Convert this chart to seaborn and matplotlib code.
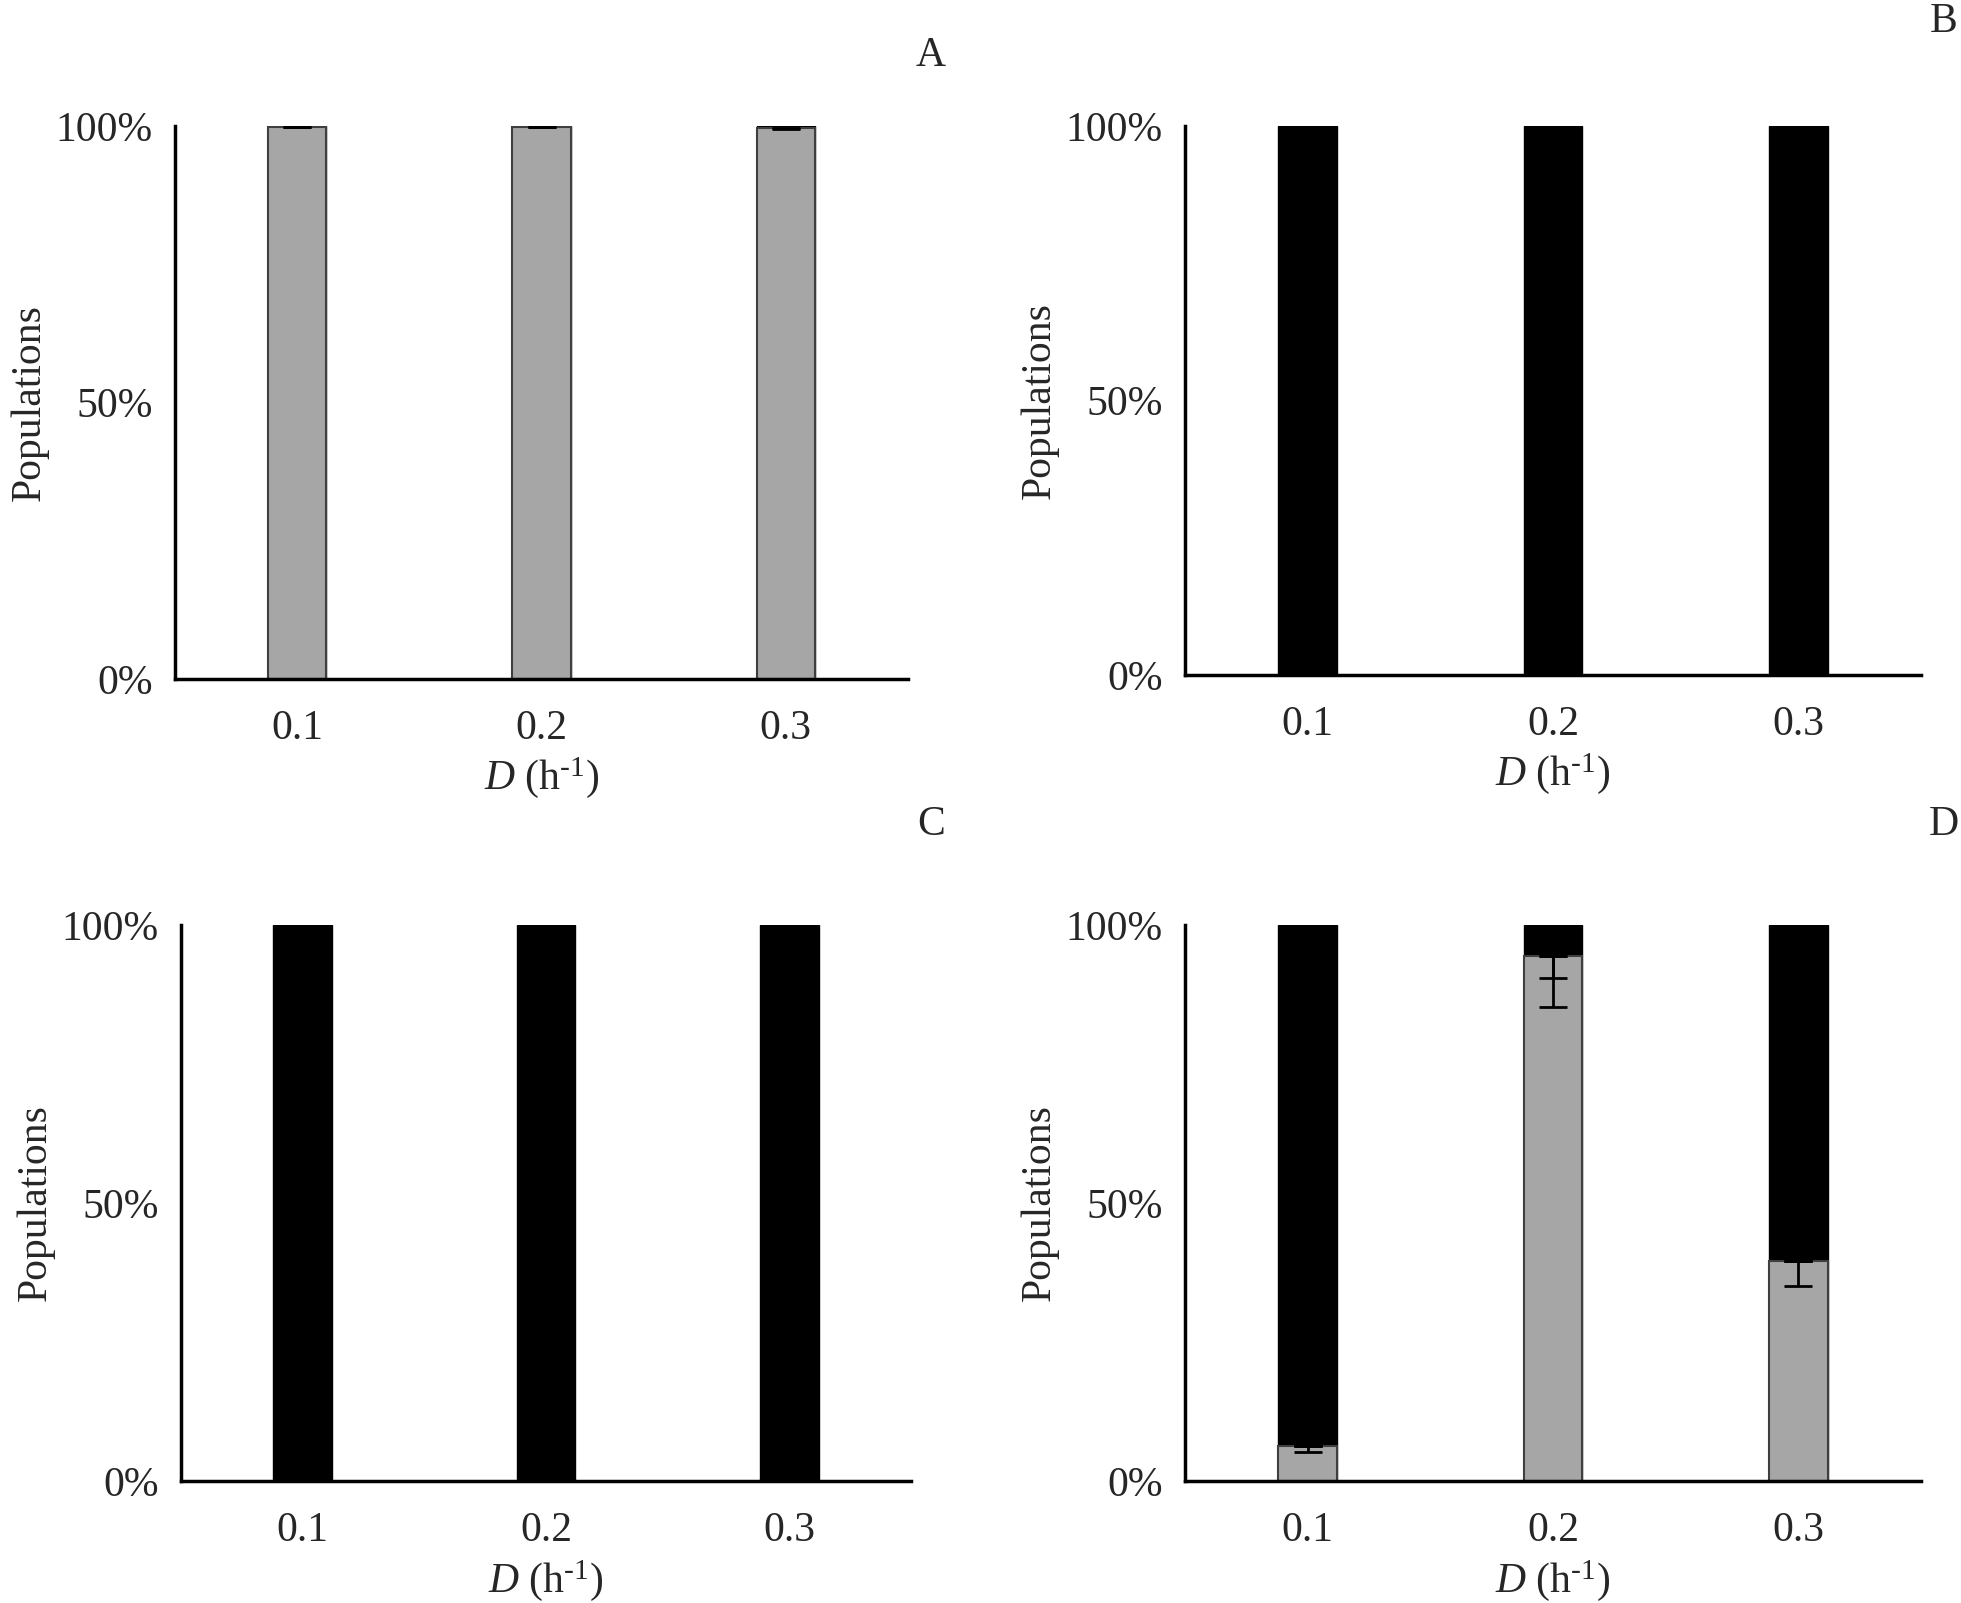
"""
Population shares (grey / black fractions) at three dilution rates, four panels.
"""

import numpy as np
import pandas as pd
import matplotlib
matplotlib.use("Agg")
import matplotlib.pyplot as plt
import seaborn as sns

# Data (percent of population)
rates = ["0.1", "0.2", "0.3"]
panels = ["A", "B", "C", "D"]

grey_a = [99.9, 99.9, 99.7]
grey_a_err = [0.1, 0.1, 0.3]
grey_b = [0.0, 0.0, 0.0]
grey_b_err = [0.0, 0.0, 0.0]
grey_c = [0.0, 0.0, 0.0]
grey_c_err = [0.0, 0.0, 0.0]
grey_d = [6.3, 94.5, 39.5]
grey_d_err = [1.0, 4.0, 4.4]
black_d_err = [0.0, 9.3, 0.0]

total = [100.0, 100.0, 100.0]
y_ticks = [0, 50, 100]
y_tick_labels = ["0%", "50%", "100%"]

GREY = "#a6a6a6"
EDGE = "#3f3f3f"
FS = 30

sns.set_style("white")
plt.rcParams["font.family"] = ["Liberation Serif", "DejaVu Serif"]
plt.rcParams["mathtext.fontset"] = "custom"
plt.rcParams["mathtext.rm"] = "Liberation Serif"
plt.rcParams["mathtext.it"] = "Liberation Serif:italic"

fig = plt.figure(figsize=(19.61, 16.03), dpi=100)
W, H = 1961, 1603

# axes boxes in pixels: left, right, top(100%), bottom(0%)
boxes = {
    "A": (175, 908, 126, 679),
    "B": (1185, 1921, 126, 675),
    "C": (181, 911, 925, 1481),
    "D": (1185, 1921, 925, 1481),
}
letters = {"A": (931, 56), "B": (1944, 22), "C": (931, 825), "D": (1944, 825)}

series = {
    "A": (grey_a, grey_a_err, None),
    "B": (grey_b, grey_b_err, None),
    "C": (grey_c, grey_c_err, None),
    "D": (grey_d, grey_d_err, black_d_err),
}


def draw_panel(ax, grey, grey_err, extra_err):
    df = pd.DataFrame({"D": rates, "total": total, "grey": grey})
    # black = remainder, drawn as full stack underneath
    sns.barplot(data=df, x="D", y="total", color="black", saturation=1,
                width=0.24, edgecolor="black", linewidth=1, ax=ax)
    if max(grey) > 0:
        sns.barplot(data=df, x="D", y="grey", color=GREY, saturation=1,
                    width=0.24, edgecolor=EDGE, linewidth=1.5, ax=ax)
        x = np.arange(len(rates))
        ax.errorbar(x, grey, yerr=[grey_err, np.zeros(len(grey))], fmt="none",
                    ecolor="black", elinewidth=2, capsize=10, capthick=2)
        if extra_err is not None:
            ax.errorbar(x, grey, yerr=[extra_err, np.zeros(len(grey))], fmt="none",
                        ecolor="black", elinewidth=2, capsize=10, capthick=2)

    ax.set_xlim(-0.5, 2.5)
    ax.set_ylim(0, 100)
    ax.set_yticks(y_ticks)
    ax.set_yticklabels(y_tick_labels)
    ax.set_xticks([-0.5, 0.5, 1.5, 2.5], minor=True)
    ax.tick_params(axis="x", which="major", length=0, labelsize=FS, pad=22)
    ax.tick_params(axis="x", which="minor", length=8, width=2.5, direction="out")
    ax.tick_params(axis="y", length=8, width=2.5, direction="out", labelsize=FS, pad=8)
    for s in ["top", "right"]:
        ax.spines[s].set_visible(False)
    for s in ["left", "bottom"]:
        ax.spines[s].set_linewidth(2.5)
        ax.spines[s].set_color("black")
    ax.set_xlabel("$\\it{D}$ (h$^{\\mathrm{\u2010}1}$)", fontsize=FS)
    ax.set_ylabel("Populations", fontsize=FS)


for p in panels:
    l, r, t, b = boxes[p]
    ax = fig.add_axes([l / W, 1 - b / H, (r - l) / W, (b - t) / H])
    grey, grey_err, extra_err = series[p]
    draw_panel(ax, grey, grey_err, extra_err)
    ax.xaxis.set_label_coords(0.5, -0.138)
    ax.yaxis.set_label_coords(-126 / (r - l), 0.5)
    lx, ly = letters[p]
    fig.text(lx / W, 1 - ly / H, p, fontsize=FS, ha="center", va="center")

fig.savefig("out.png", dpi=100)
